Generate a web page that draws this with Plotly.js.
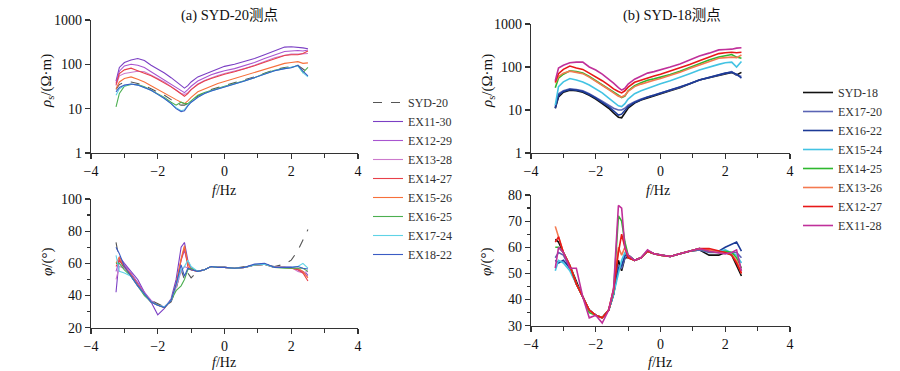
<!DOCTYPE html>
<html><head><meta charset="utf-8">
<script src="https://cdn.plot.ly/plotly-3.0.1.min.js"></script>
<style>html,body{margin:0;padding:0;background:#fff}</style>
</head><body><div id="chart" style="width:900px;height:371px"></div>
<script>
// log10 frequency grid (shared)
const logF = [-3.25,-3.15,-3.0,-2.8,-2.6,-2.4,-2.2,-2.0,-1.8,-1.6,-1.45,-1.3,-1.2,-1.1,-1.0,-0.8,-0.6,-0.4,-0.2,0,0.3,0.6,0.9,1.2,1.5,1.8,2.0,2.2,2.35,2.5];

// (a) SYD-20 names
const namesA = ['SYD-20','EX11-30','EX12-29','EX13-28','EX14-27','EX15-26','EX16-25','EX17-24','EX18-22'];
// (a) apparent resistivity
const rhoA_SYD20 = [27,35,40,40,37,33,28,24,20,16,13,12,12,13,15,19,23,27,30,33,38,44,52,63,75,85,88,95,80,65];
const rhoA_EX1130 = [42,85,110,125,135,122,95,78,64,50,40,32,29,33,40,52,60,70,80,90,100,115,135,165,200,245,250,245,235,225];
const rhoA_EX1229 = [38,70,92,100,95,85,68,55,45,36,30,26,23,27,32,42,50,58,65,72,80,92,110,135,165,195,200,205,200,210];
const rhoA_EX1328 = [33,55,62,66,70,68,58,48,40,32,27,22,21,23,27,36,43,50,56,62,70,80,95,115,140,160,170,170,170,175];
const rhoA_EX1427 = [35,62,75,82,72,64,55,46,38,31,26,22,19,22,27,35,42,48,54,60,68,78,93,112,135,158,165,165,175,200];
const rhoA_EX1526 = [28,40,48,52,46,40,33,27,22,18,16,14,13,15,18,24,28,33,37,41,48,55,65,78,92,105,110,115,105,108];
const rhoA_EX1625 = [11,22,32,35,35,31,26,22,18,14,12,14,13,13,15,20,23,26,29,32,37,43,50,62,73,82,85,95,65,85];
const rhoA_EX1724 = [20,28,33,36,34,30,26,21,17,13,10.5,9,9.5,12,14,18,22,25,28,31,36,42,50,62,72,80,85,92,65,52];
const rhoA_EX1822 = [24,30,34,36,34,30,26,21,17,13,10,8.6,9,11.5,14,18,22,25,28,31,36,42,50,62,72,80,84,95,70,55];
// (a) phase
const phiA_SYD20 = [73,62,57,52,46,41,37,35,33,36,44,56,50,54,51,55,56,58,57.5,57.5,57,58,59,59,58,59.5,62,68,74,81];
const phiA_EX1130 = [42,64,60,55,50,42,36,28,32,38,50,70,73,62,57,55,56,58,57.5,57.5,57,57.5,59,59.5,57.5,57.5,57.5,56,55,53];
const phiA_EX1229 = [55,62,59,54,48,42,37,34,33,37,46,62,68,60,57,55,56,58,57.5,57.5,57,57.5,59,59.5,57.5,57.5,57.5,56.5,54,52];
const phiA_EX1328 = [50,58,57,53,47,41,36,34,33,37,45,55,58,57,56,55,56,58,57.5,57.5,57,57.5,59,59.5,57.5,57.5,57.5,55,54,55];
const phiA_EX1427 = [58,62,58,53,47,41,36,34,32.5,37,47,62,70,58,56,55,56,58,57.5,57.5,57,57.5,59,59.5,57.5,57.5,57,56,54,49];
const phiA_EX1526 = [60,64,58,52,46,41,36,34,32.5,37,47,63,71,60,56,55,56,58,57.5,57.5,57,57.5,59,59.5,57.5,57.5,57,57,55,51];
const phiA_EX1625 = [60,60,56,52,46,40,36,34,32.5,37,43,46,50,56,57,55,56,58,57.5,57.5,57,57.5,59,59.5,57.5,57,57,57,57,55];
const phiA_EX1724 = [65,55,54,52,46,41,36,34,33,37,46,56,58,62,58,55,56,58,57.5,57.5,57,57.5,59,59.5,57.5,57.5,57.5,58,60,57];
const phiA_EX1822 = [70,66,58,52,46,41,36,34,32.5,37,47,59,52,57,56,55,56,58,57.5,57.5,57,57.5,59.5,60,57.5,57.5,57.5,58,57,56.5];

// (b) SYD-18 names
const namesB = ['SYD-18','EX17-20','EX16-22','EX15-24','EX14-25','EX13-26','EX12-27','EX11-28'];
const rhoB_SYD18 = [11,20,26,29,28,26,22,18,14,11,8.5,6.8,6.6,8.5,11,14.5,17,19,21,23.5,28,33,40,50,56,63,70,75,65,75];
const rhoB_EX1720 = [12,24,28,31,30,28,24,20,16,13,11,10,10,11,13,15.5,18,20,22,24.5,29,34,41,50,57,66,72,78,65,60];
const rhoB_EX1622 = [11,22,27,30,29,27,23,19,15,12,9.5,7.6,8,10,12,15,17.5,20,22,24.5,29,34,41,50,57,66,72,75,68,55];
const rhoB_EX1524 = [13,35,45,54,50,45,38,31,25,19,15,12.5,12,14,18,24,28,32,37,41,48,57,70,85,100,115,125,130,100,135];
const rhoB_EX1425 = [33,55,68,82,78,72,60,48,40,31,26,22,19.5,21,28,37,43,49,53,58,67,80,98,120,145,170,185,195,170,160];
const rhoB_EX1326 = [42,60,72,80,75,70,58,47,38,30,25,21,20,22,27,35,40,45,49,54,63,75,92,112,135,160,165,170,165,190];
const rhoB_EX1227 = [45,70,88,105,95,88,72,60,48,38,31,27,25,28,34,44,50,56,62,68,80,95,115,140,170,205,215,220,215,220];
const rhoB_EX1128 = [48,95,110,125,130,130,100,85,68,52,42,33,29,32,40,52,62,72,78,85,100,118,145,180,210,250,255,260,275,280];
const phiB_SYD18 = [63,62,58,53,47,41,36,34,33,36,42,55,51,56,56,55,56,58.5,57.5,57,56.5,57.5,58.5,59,57,57,58,57,53,49];
const phiB_EX1720 = [56,58,57,52,46,41,36,34,33,36,42,53,52,56,57,55,56,58.5,57.5,57,56.5,57.5,58.5,59,58,58,58,58,58,56];
const phiB_EX1622 = [55,54,55,52,46,41,36,34,33,36,42,52,53,57,57,55,56,58.5,57.5,57,56.5,57.5,58.5,59.5,58.5,58.5,60,61,62,58.5];
const phiB_EX1524 = [51,55,54,51,46,41,36,34,33,36,42,50,55,58,57,55,56,58.5,57.5,57,56.5,57.5,58.5,59.5,58.5,58.5,59,58,57,54];
const phiB_EX1425 = [60,60,58,53,46,41,35,34,33,36,43,72,70,62,57,55,56,58.5,57.5,57,56.5,57.5,58.5,59.5,58.5,58,58.5,58,56,52];
const phiB_EX1326 = [68,64,58,53,46,41,36,34,33,36,44,60,57,60,56,55,56,58.5,57.5,57,56.5,57.5,58.5,59.5,59,58,58,57,55,50];
const phiB_EX1227 = [62,64,58,53,46,41,36,34,33,36,44,58,65,60,56,55,56,58.5,57.5,57,56.5,57.5,58.5,59.5,59.5,58.5,58,57,54,50];
const phiB_EX1128 = [52,60,58,52,52,41,33,34,31,36,44,76,75,60,57,55,56,59,57.5,57,56.5,57.5,58.5,59.5,58.5,58,57.5,58,59,51];

const rhoA = [rhoA_SYD20,rhoA_EX1130,rhoA_EX1229,rhoA_EX1328,rhoA_EX1427,rhoA_EX1526,rhoA_EX1625,rhoA_EX1724,rhoA_EX1822];
const phiA = [phiA_SYD20,phiA_EX1130,phiA_EX1229,phiA_EX1328,phiA_EX1427,phiA_EX1526,phiA_EX1625,phiA_EX1724,phiA_EX1822];
const rhoB = [rhoB_SYD18,rhoB_EX1720,rhoB_EX1622,rhoB_EX1524,rhoB_EX1425,rhoB_EX1326,rhoB_EX1227,rhoB_EX1128];
const phiB = [phiB_SYD18,phiB_EX1720,phiB_EX1622,phiB_EX1524,phiB_EX1425,phiB_EX1326,phiB_EX1227,phiB_EX1128];

const colorsA = ['#555555','#7b3fc4','#a855d0','#cc7acc','#e8404a','#f7703a','#4caf50','#5fd3e6','#3a5cc4'];
const colorsB = ['#111111','#5a64b4','#1c3a96','#43c3e3','#2eb82e','#f47a50','#e81818','#c0309a'];

const traces = [];
namesA.forEach((n,i)=>{
  const line = {color:colorsA[i], width:1.1, dash: i===0 ? 'dash' : 'solid'};
  traces.push({x:logF, y:rhoA[i], type:'scatter', mode:'lines', name:n, line, xaxis:'x', yaxis:'y', legend:'legend', legendgroup:'a'+i});
  traces.push({x:logF, y:phiA[i], type:'scatter', mode:'lines', name:n, line, xaxis:'x2', yaxis:'y2', showlegend:false, legendgroup:'a'+i});
});
namesB.forEach((n,i)=>{
  const line = {color:colorsB[i], width:1.6};
  traces.push({x:logF, y:rhoB[i], type:'scatter', mode:'lines', name:n, line, xaxis:'x3', yaxis:'y3', legend:'legend2', legendgroup:'b'+i});
  traces.push({x:logF, y:phiB[i], type:'scatter', mode:'lines', name:n, line, xaxis:'x4', yaxis:'y4', showlegend:false, legendgroup:'b'+i});
});

const W=900, H=371;
const px=v=>v/W, py=v=>1-v/H;
const FONT = 'Liberation Serif, Times New Roman, Noto Sans CJK SC, serif';
const base = {showline:true, linecolor:'#333', linewidth:1.2, ticks:'outside', ticklen:5, tickwidth:1.2, tickcolor:'#333',
  showgrid:false, zeroline:false, tickfont:{family:FONT, size:14, color:'#111'}, fixedrange:true};
const xax = (anchor, d) => Object.assign({}, base, {anchor, domain:d, range:[-4,4], dtick:2, tick0:0,
  minor:{ticks:'outside', ticklen:4, dtick:1, tick0:0, tickcolor:'#333', tickwidth:1.2}});

const ann = (text, x, y, size, angle) => ({text, x:px(x), y:py(y), xref:'paper', yref:'paper', showarrow:false,
  xanchor:'center', yanchor:'middle', textangle:angle||0, font:{family:FONT, size, color:'#111'}});

const layout = {
  width:W, height:H, margin:{l:0,r:0,t:0,b:0}, paper_bgcolor:'#fff', plot_bgcolor:'rgba(0,0,0,0)',
  font:{family:FONT, color:'#111'},
  xaxis: xax('y', [px(91), px(358)]),
  yaxis: Object.assign({}, base, {anchor:'x', domain:[py(153), py(20)], type:'log', range:[0,3],
    tickvals:[1,10,100,1000], ticktext:['1','10','100','1000']}),
  xaxis2: xax('y2', [px(91), px(358)]),
  yaxis2: Object.assign({}, base, {anchor:'x2', domain:[py(327.7), py(199)], range:[20,100], dtick:20,
    minor:{ticks:'outside', ticklen:3, dtick:10, tickcolor:'#333', tickwidth:1.2}}),
  xaxis3: xax('y3', [px(531), px(790)]),
  yaxis3: Object.assign({}, base, {anchor:'x3', domain:[py(153), py(24)], type:'log', range:[0,3],
    tickvals:[1,10,100,1000], ticktext:['1','10','100','1000']}),
  xaxis4: xax('y4', [px(531), px(790)]),
  yaxis4: Object.assign({}, base, {anchor:'x4', domain:[py(325.7), py(195)], range:[30,80], dtick:10,
    minor:{ticks:'outside', ticklen:3, dtick:5, tickcolor:'#333', tickwidth:1.2}}),
  legend: {x:px(368), y:py(88), xanchor:'left', yanchor:'top', bgcolor:'rgba(0,0,0,0)', tracegroupgap:0,
    font:{family:FONT, size:12, color:'#333'}},
  legend2: {x:px(798), y:py(78), xanchor:'left', yanchor:'top', bgcolor:'rgba(0,0,0,0)', tracegroupgap:0,
    font:{family:FONT, size:12, color:'#333'}},
  annotations: [
    ann('(a) SYD-20测点', 230, 15, 14.5),
    ann('(b) SYD-18测点', 672, 15, 14.5),
    ann('<i>ρ</i><sub>s</sub>/(Ω·m)', 47, 81, 15, -90),
    ann('<i>φ</i>/(°)', 47, 262, 15, -90),
    ann('<i>ρ</i><sub>s</sub>/(Ω·m)', 488, 81, 15, -90),
    ann('<i>φ</i>/(°)', 486, 262, 15, -90),
    ann('<i>f</i>/Hz', 224, 190, 14),
    ann('<i>f</i>/Hz', 224, 362, 14),
    ann('<i>f</i>/Hz', 658, 190, 14),
    ann('<i>f</i>/Hz', 660, 362, 14)
  ]
};
Plotly.newPlot('chart', traces, layout, {staticPlot:true, displayModeBar:false});
</script></body></html>
